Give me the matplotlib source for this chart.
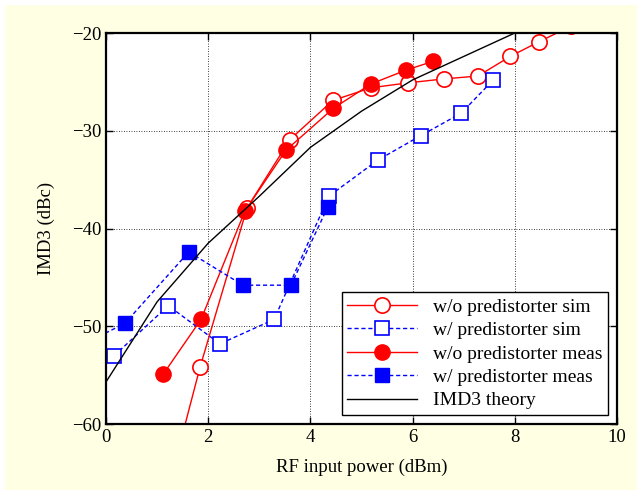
import matplotlib
matplotlib.use("Agg")
import matplotlib.pyplot as plt
from matplotlib.patches import Rectangle

plt.rcParams['font.family'] = ['Liberation Serif', 'DejaVu Serif']
plt.rcParams['mathtext.fontset'] = 'stix'

# w/o predistorter, simulation
wo_sim_x = [1.2, 1.84, 2.76, 3.6, 4.44, 5.19, 5.91, 6.61, 7.28, 7.91, 8.47, 9.1]
wo_sim_y = [-67.0, -54.2, -37.9, -30.9, -26.9, -25.6, -25.1, -24.7, -24.4, -22.4, -20.9, -19.3]

# w/ predistorter, simulation
w_sim_x = [0.16, 1.22, 2.23, 3.29, 4.36, 5.32, 6.16, 6.95, 7.58]
w_sim_y = [-53.0, -47.9, -51.8, -49.3, -36.7, -33.0, -30.5, -28.2, -24.8]

# w/o predistorter, measured
wo_meas_x = [1.12, 1.86, 2.72, 3.52, 4.45, 5.19, 5.87, 6.40]
wo_meas_y = [-54.9, -49.3, -38.2, -32.0, -27.7, -25.2, -23.8, -22.9]

# w/ predistorter, measured
w_meas_x = [-0.5, 0.37, 1.62, 2.68, 3.62, 4.34]
w_meas_y = [-52.0, -49.7, -42.4, -45.8, -45.8, -37.8]

# IMD3 theory
th_x = [0, 1, 2, 3, 4, 5, 6, 7, 8, 9, 10]
th_y = [-55.7, -47.5, -41.5, -36.7, -31.7, -28.0, -24.8, -22.4, -20.0, -18.0, -16.0]

fig = plt.figure(figsize=(6.37, 4.9), dpi=100, facecolor='white')
fig.patches.append(Rectangle((5 / 637, 0), 1, 1 - 5 / 490, transform=fig.transFigure,
                             facecolor='#ffffe3', edgecolor='none', zorder=-10))

ax = fig.add_axes([106 / 637, 1 - 424 / 490, 511 / 637, 391 / 490])
ax.set_facecolor('white')

dash = (0, (3, 2))
ax.plot(wo_sim_x, wo_sim_y, '-', color='red', lw=1, marker='o', ms=11,
        mfc='white', mec='red', mew=1.2, label='w/o predistorter sim')
ax.plot(w_sim_x, w_sim_y, linestyle=dash, color='blue', lw=1, marker='s', ms=10,
        mfc='white', mec='blue', mew=1.2, label='w/ predistorter sim')
ax.plot(wo_meas_x, wo_meas_y, '-', color='red', lw=1, marker='o', ms=11,
        mfc='red', mec='red', label='w/o predistorter meas')
ax.plot(w_meas_x, w_meas_y, linestyle=dash, color='blue', lw=1, marker='s', ms=10,
        mfc='blue', mec='blue', label='w/ predistorter meas')
ax.plot(th_x, th_y, '-', color='black', lw=1, label='IMD3 theory')

ax.set_xlim(0, 10)
ax.set_ylim(-60, -20)
ax.set_xticks([0, 2, 4, 6, 8, 10])
ax.set_yticks([-60, -50, -40, -30, -20])
ax.set_yticklabels(['\u221260', '\u221250', '\u221240', '\u221230', '\u221220'])
ax.grid(True, color='black', linestyle=(0, (1, 2)), linewidth=0.6)
ax.tick_params(direction='in', top=True, right=True, labelsize=13.5, length=5, width=1)
for s in ax.spines.values():
    s.set_linewidth(1.6)

ax.set_xlabel('RF input power (dBm)', fontsize=13.5, labelpad=9)
ax.set_ylabel('IMD3 (dBc)', fontsize=13.5, labelpad=12)

leg = ax.legend(loc='lower right', fontsize=14, handlelength=3.6, fancybox=False,
                framealpha=1, edgecolor='black', borderaxespad=0.45,
                labelspacing=0.3, borderpad=0.3, handletextpad=0.8)
leg.get_frame().set_linewidth(1)

fig.savefig('out.png', dpi=100, facecolor=fig.get_facecolor())
